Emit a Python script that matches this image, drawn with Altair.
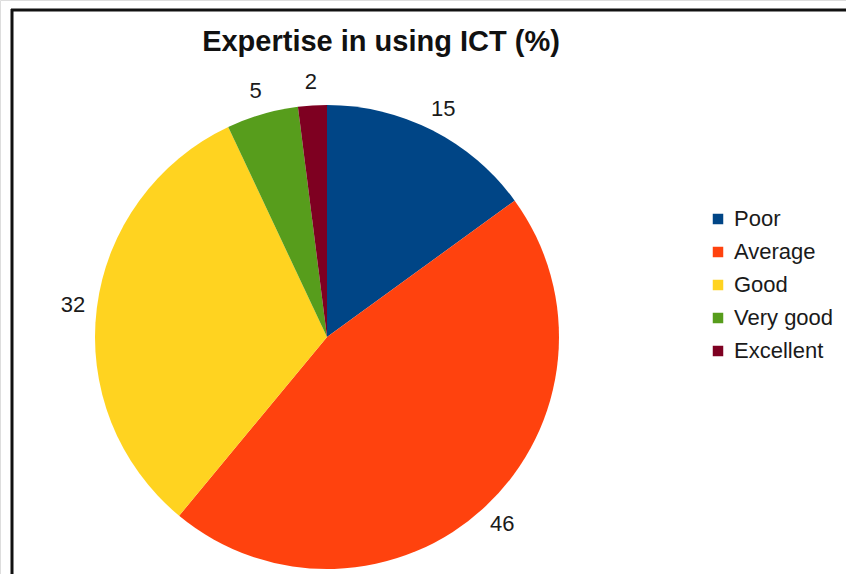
import altair as alt
import pandas as pd

title_text = "Expertise in using ICT (%)"
categories = ["Poor", "Average", "Good", "Very good", "Excellent"]
values = [15, 46, 32, 5, 2]
colors = ["#004586", "#ff420e", "#ffd320", "#579d1c", "#7e0021"]

df = pd.DataFrame({"category": categories, "value": values, "order": list(range(len(categories)))})

FONT = "Liberation Sans"
CX, CY, R = 327, 337, 232

base = alt.Chart(df).encode(
    theta=alt.Theta("value:Q", stack=True),
    order=alt.Order("order:Q"),
)

pie = base.mark_arc(radius=R, stroke=None).encode(
    x=alt.value(CX),
    y=alt.value(CY),
    color=alt.Color(
        "category:N",
        sort=categories,
        scale=alt.Scale(domain=categories, range=colors),
        legend=alt.Legend(
            title=None,
            orient="none",
            legendX=707,
            legendY=208,
            symbolType="square",
            symbolSize=110,
            symbolStrokeWidth=0,
            labelFont=FONT,
            labelFontSize=22,
            labelColor="#1a1a1a",
            labelOffset=5,
            rowPadding=11,
        ),
    ),
)

labels = base.mark_text(radius=R + 24, font=FONT, fontSize=22, color="#1a1a1a").encode(
    x=alt.value(CX),
    y=alt.value(CY),
    text=alt.Text("value:Q"),
)

title = alt.Chart(alt.Data(values=[{"t": title_text}])).mark_text(
    font=FONT, fontSize=29, fontWeight="bold", color="#111111", baseline="alphabetic"
).encode(x=alt.value(381), y=alt.value(51), text="t:N")

frame_left = alt.Chart(alt.Data(values=[{}])).mark_rule(color="#111111", strokeWidth=3).encode(
    x=alt.value(12), y=alt.value(9), y2=alt.value(574)
)
frame_top = alt.Chart(alt.Data(values=[{}])).mark_rule(color="#111111", strokeWidth=3).encode(
    x=alt.value(11), x2=alt.value(846), y=alt.value(10)
)

chart = alt.layer(pie, labels, title, frame_left, frame_top).properties(
    width=846, height=574, autosize=alt.AutoSizeParams(type="none"), padding=0
).configure_view(stroke=None).configure(background="white")

chart.save("out.html", embed_options={"renderer": "svg", "actions": False})
